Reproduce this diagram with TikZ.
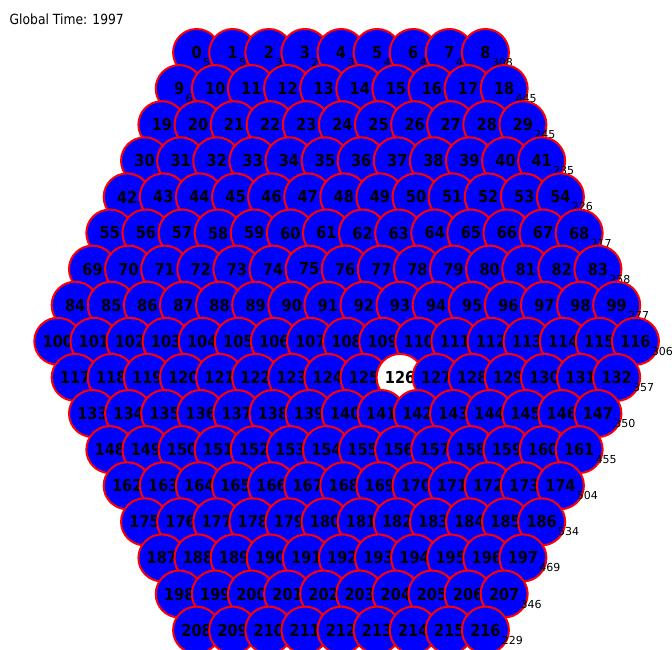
\documentclass[tikz,border=0pt]{standalone}
\usepackage{fontspec}
\newfontfamily\labfont[FakeStretch=0.88]{DejaVu Sans}
\newfontfamily\smfont{DejaVu Sans}
\newcount\cellid
\def\setcnt#1#2{\expandafter\def\csname cnt#1\endcsname{#2}}
\setcnt{0}{5}\setcnt{1}{5}\setcnt{2}{3}\setcnt{3}{2}\setcnt{4}{3}
\setcnt{5}{4}\setcnt{6}{4}\setcnt{7}{4}\setcnt{8}{308}\setcnt{9}{6}
\setcnt{18}{445}\setcnt{29}{245}\setcnt{41}{235}\setcnt{54}{226}
\setcnt{68}{217}\setcnt{83}{258}\setcnt{99}{277}\setcnt{116}{306}
\setcnt{132}{357}\setcnt{147}{350}\setcnt{161}{455}\setcnt{174}{504}
\setcnt{186}{534}\setcnt{197}{469}\setcnt{207}{346}\setcnt{216}{229}
\tikzset{
  cell/.style={circle, draw=red, fill=blue, line width=2pt, minimum size=47pt, inner sep=0pt},
  hole/.style={cell, fill=white},
  lab/.style={font=\labfont\bfseries\fontsize{16.5}{16.5}\selectfont, inner sep=0pt, text=black},
  cnt/.style={font=\smfont\fontsize{11}{11}\selectfont, inner sep=0pt, anchor=base west, text=black},
  gtime/.style={font=\labfont\fontsize{14}{14}\selectfont, inner sep=0pt, anchor=base west, text=black},
}
\begin{document}
\begin{tikzpicture}[x=1pt,y=-1pt]
\fill[white] (0,0) rectangle (672,650);
\useasboundingbox (0,0) rectangle (672,650);
\node[gtime] (gt) at (9.5,25) {Global Time: 1997};
\global\cellid=0
\foreach \r in {0,...,16}{
  \pgfmathsetmacro\nrow{17-abs(\r-8)}
  \pgfmathsetmacro\xc{341+0.7*(8-abs(\r-8))}
  \pgfmathsetmacro\yy{52.5+36.1*\r}
  \pgfmathtruncatemacro\nlast{\nrow-1}
  \foreach \i in {0,...,\nlast}{
    \pgfmathsetmacro\xx{\xc+(\i-(\nrow-1)/2)*36.1}
    \edef\cidx{\the\cellid}
    \ifnum\cellid=126
      \node[hole] (c\cidx) at (\xx,\yy) {};
    \else
      \node[cell] (c\cidx) at (\xx,\yy) {};
    \fi
    \node[lab] (t\cidx) at (c\cidx.center) {\cidx};
    \ifcsname cnt\cidx\endcsname
      \node[cnt] (s\cidx) at ([xshift=1pt,yshift=-8pt]t\cidx.base east) {\csname cnt\cidx\endcsname};
    \fi
    \global\advance\cellid by 1
  }
}
\end{tikzpicture}
\end{document}
